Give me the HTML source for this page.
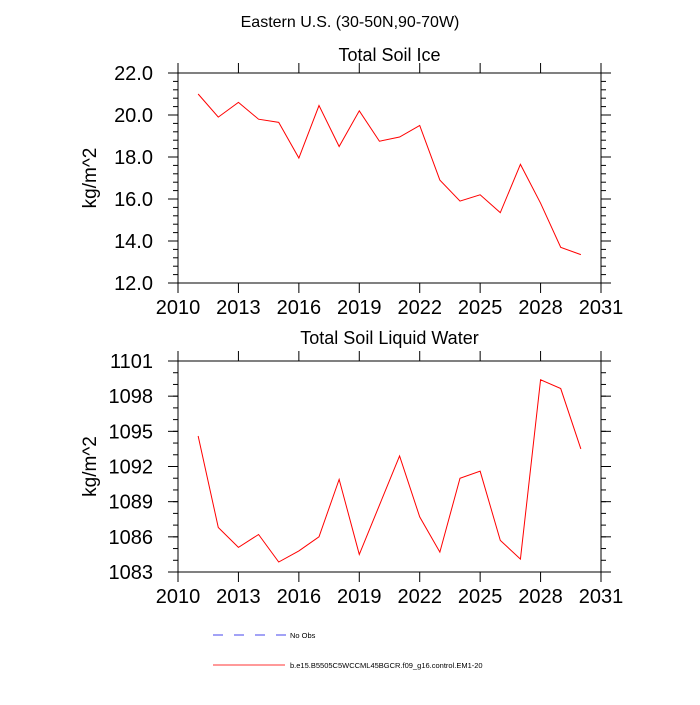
<!DOCTYPE html>
<html><head><meta charset="utf-8"><style>
body{margin:0;background:#fff;}
svg text{font-family:"Liberation Sans",sans-serif;fill:#000;}
</style></head><body>
<svg id="chart" width="700" height="700" xmlns="http://www.w3.org/2000/svg">
<text x="350" y="27" font-size="16" text-anchor="middle">Eastern U.S. (30-50N,90-70W)</text>
<g id="p1"></g>
<g id="p2"></g>
<g>
<line x1="213" y1="635" x2="286" y2="635" stroke="#4444ee" stroke-width="1" stroke-dasharray="10,11"/>
<text x="290" y="638" font-size="7.5">No Obs</text>
<line x1="213" y1="665" x2="285" y2="665" stroke="#ff3333" stroke-width="1"/>
<text x="290" y="668" font-size="7.5">b.e15.B5505C5WCCML45BGCR.f09_g16.control.EM1-20</text>
</g>
</svg>
<script>
const years=[2011,2012,2013,2014,2015,2016,2017,2018,2019,2020,2021,2022,2023,2024,2025,2026,2027,2028,2029,2030];
const iceValues=[21.0,19.9,20.6,19.8,19.65,17.95,20.45,18.5,20.2,18.75,18.95,19.5,16.9,15.9,16.2,15.35,17.65,15.8,13.7,13.35];
const liquidValues=[1094.6,1086.8,1085.1,1086.2,1083.85,1084.8,1086.0,1090.9,1084.5,1088.7,1092.9,1087.7,1084.7,1091.0,1091.6,1085.7,1084.1,1099.4,1098.65,1093.5];
const xTicks=[2010,2013,2016,2019,2022,2025,2028,2031];
const iceTicks=[12,14,16,18,20,22];
const liquidTicks=[1083,1086,1089,1092,1095,1098,1101];
const NS="http://www.w3.org/2000/svg";
const L=178,R=601;
function mk(g,t,a){const e=document.createElementNS(NS,t);for(const k in a)e.setAttribute(k,a[k]);g.appendChild(e);return e;}
function panel(id,top,bot,vals,yt,minorStep,dec,title,titleOff){
 const g=document.getElementById(id);
 const ymin=yt[0],ymax=yt[yt.length-1];
 const X=v=>L+(v-2010)*(R-L)/21;
 const Y=v=>bot-(v-ymin)*(bot-top)/(ymax-ymin);
 let r=mk(g,'rect',{x:L,y:top,width:R-L,height:bot-top,fill:'none',stroke:'#000','stroke-width':1});
 
 let tt=mk(g,'text',{x:(L+R)/2,y:top-titleOff,'font-size':18,'text-anchor':'middle'});tt.textContent=title;
 
 let yl=mk(g,'text',{x:0,y:0,'font-size':19,'text-anchor':'middle',transform:`translate(96,${(top+bot)/2}) rotate(-90)`});yl.textContent='kg/m^2';
 
 xTicks.forEach(v=>{const x=X(v);
  mk(g,'line',{x1:x,y1:bot,x2:x,y2:bot+10,stroke:'#000'});
  mk(g,'line',{x1:x,y1:top,x2:x,y2:top-10,stroke:'#000'});
  let t=mk(g,'text',{x:x,y:bot+31,'font-size':20,'text-anchor':'middle'});t.textContent=v;
  });
 for(let v=ymin;v<=ymax+1e-9;v+=minorStep){const y=Y(v);
  mk(g,'line',{x1:L,y1:y,x2:L-5,y2:y,stroke:'#000'});mk(g,'line',{x1:R,y1:y,x2:R+5,y2:y,stroke:'#000'});}
 yt.forEach(v=>{const y=Y(v);
  mk(g,'line',{x1:L,y1:y,x2:L-10,y2:y,stroke:'#000'});mk(g,'line',{x1:R,y1:y,x2:R+10,y2:y,stroke:'#000'});
  let t=mk(g,'text',{x:L-25,y:y+7,'font-size':20,'text-anchor':'end'});t.textContent=v.toFixed(dec);
  });
 let p=mk(g,'polyline',{points:years.map((yr,i)=>X(yr)+','+Y(vals[i])).join(' '),fill:'none',stroke:'#ff0000','stroke-width':1});
 
}
panel('p1',73,283,iceValues,iceTicks,0.4,1,'Total Soil Ice',12);
panel('p2',361,572,liquidValues,liquidTicks,1,0,'Total Soil Liquid Water',17);
</script>
</body></html>
